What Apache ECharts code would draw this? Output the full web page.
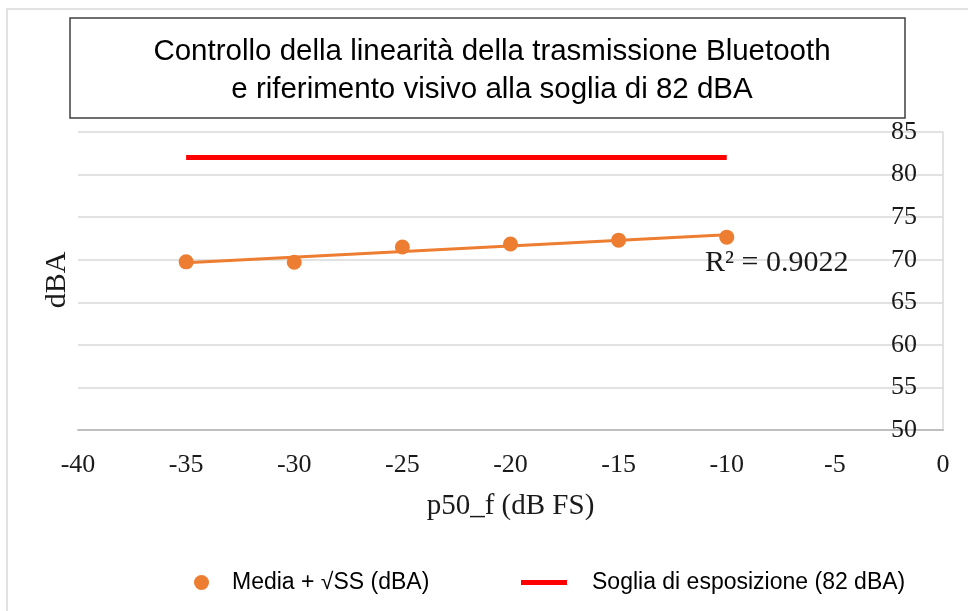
<!DOCTYPE html>
<html>
<head>
<meta charset="utf-8">
<script src="https://cdn.jsdelivr.net/npm/echarts@6/dist/echarts.min.js"></script>
<style>html,body{margin:0;padding:0;background:#fff}#c{width:968px;height:611px}</style>
</head>
<body>
<div id="c"></div>
<script>
const xValues = [-35, -30, -25, -20, -15, -10];
const mediaValues = [69.75, 69.7, 71.5, 71.85, 72.3, 72.65];
const trendX = [-35, -10];
const trendY = [69.65, 72.92];
const sogliaX = [-35, -10];
const sogliaY = [82, 82];
const yTicks = [50, 55, 60, 65, 70, 75, 80, 85];
const xTicks = [-40, -35, -30, -25, -20, -15, -10, -5, 0];
const titleLines = ['Controllo della linearità della trasmissione Bluetooth', 'e riferimento visivo alla soglia di 82 dBA'];
const nameMedia = 'Media + √SS (dBA)';
const nameSoglia = 'Soglia di esposizione (82 dBA)';
const r2Text = 'R² = 0.9022';

const chart = echarts.init(document.getElementById('c'), null, {renderer: 'canvas'});
const serif = '"Liberation Serif", "Times New Roman", serif';
const sans = '"Liberation Sans", Arial, sans-serif';

chart.setOption({
  animation: false,
  backgroundColor: '#ffffff',
  title: {
    text: titleLines.join('\n'),
    left: 487, top: 28, textAlign: 'center',
    textStyle: {fontFamily: sans, fontSize: 29.5, fontWeight: 'normal', color: '#000', lineHeight: 38, align: 'center'}
  },
  grid: {left: 78, right: 25, top: 132, bottom: 181, containLabel: false},
  xAxis: {
    type: 'value', min: -40, max: 0, interval: 5,
    name: 'p50_f (dB FS)', nameLocation: 'middle', nameGap: 62,
    nameTextStyle: {fontFamily: serif, fontSize: 29, color: '#1a1a1a'},
    axisLine: {show: true, lineStyle: {color: '#bfbfbf', width: 2}},
    axisTick: {show: false},
    splitLine: {show: false},
    axisLabel: {
      customValues: xTicks,
      fontFamily: serif, fontSize: 26, color: '#1a1a1a', margin: 22,
      showMinLabel: true, showMaxLabel: true
    }
  },
  yAxis: {
    type: 'value', position: 'right', min: 50, max: 85, interval: 5,
    axisLine: {show: true, lineStyle: {color: '#d9d9d9', width: 1.5}},
    axisTick: {show: false},
    splitLine: {show: true, lineStyle: {color: '#d9d9d9', width: 1.5}},
    axisLabel: {
      inside: true, margin: 26,
      customValues: yTicks,
      fontFamily: serif, fontSize: 26, color: '#1a1a1a'
    }
  },
  legend: [
    {
      data: [{name: nameMedia, icon: 'circle'}],
      left: 189, top: 566, itemWidth: 15, itemHeight: 15,
      textStyle: {fontFamily: sans, fontSize: 23, color: '#000', padding: [0, 0, 0, 18]}
    },
    {
      data: [{name: nameSoglia, icon: 'rect'}],
      left: 516, top: 566, itemWidth: 46, itemHeight: 5,
      textStyle: {fontFamily: sans, fontSize: 23, color: '#000', padding: [0, 0, 0, 20]}
    }
  ],
  graphic: [
    {type: 'rect', silent: true, z: -10, shape: {x: 7, y: 9, width: 975, height: 620}, style: {fill: null, stroke: '#d9d9d9', lineWidth: 1.5}},
    {type: 'rect', silent: true, z: 10, shape: {x: 70, y: 18, width: 835, height: 100}, style: {fill: null, stroke: '#404040', lineWidth: 1.5}},
    {type: 'text', silent: true, z: 10, x: 57, y: 280, rotation: Math.PI / 2,
      style: {text: 'dBA', fontFamily: serif, fontSize: 30, fill: '#1a1a1a', textAlign: 'center', textVerticalAlign: 'middle'}},
    {type: 'text', silent: true, z: 10, x: 705, y: 263,
      style: {text: r2Text, fontFamily: serif, fontSize: 30, fill: '#1a1a1a', textAlign: 'left', textVerticalAlign: 'middle'}}
  ],
  series: [
    {
      name: nameSoglia, type: 'line',
      data: sogliaX.map((x, i) => [x, sogliaY[i]]),
      showSymbol: false, symbol: 'none',
      lineStyle: {color: '#ff0000', width: 5},
      itemStyle: {color: '#ff0000'}, z: 2
    },
    {
      name: 'trend', type: 'line',
      data: trendX.map((x, i) => [x, trendY[i]]),
      showSymbol: false, symbol: 'none', silent: true,
      lineStyle: {color: '#ED7D31', width: 3}, z: 3
    },
    {
      name: nameMedia, type: 'scatter',
      data: xValues.map((x, i) => [x, mediaValues[i]]),
      symbol: 'circle', symbolSize: 15,
      itemStyle: {color: '#ED7D31', opacity: 1}, z: 4
    }
  ]
});
</script>
</body>
</html>
